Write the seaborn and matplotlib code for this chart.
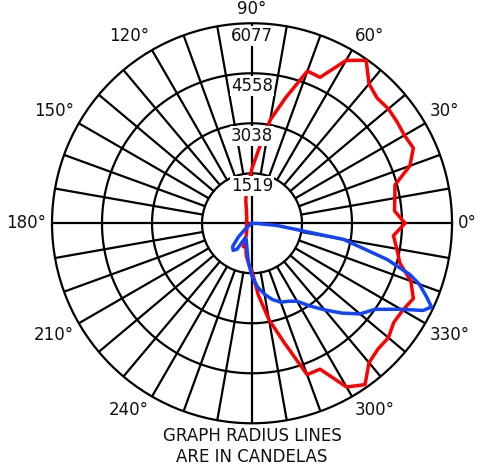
import numpy as np
import matplotlib.pyplot as plt
import seaborn as sns

# rings of the polar grid (candela)
ring_values = [1519, 3038, 4558, 6077]
angle_labels = [0, 30, 60, 90, 120, 150, 180, 210, 240, 300, 330]

# red curve: angle (deg) and intensity (cd)
red_deg = [0, 5, 10, 15, 20, 25, 30, 35, 40, 45, 50, 55, 60, 65, 70, 75, 80, 85, 90, 95,
           100, 105, 110, 115, 120, 130, 140, 150, 160, 170, 180, 190, 200, 210, 220, 230, 240,
           245, 250, 255, 260, 265, 270, 275, 280, 285, 290, 295, 300, 305, 310, 315, 320,
           325, 330, 335, 340, 345, 350, 355, 360]
red_cd = [4649, 4345, 4406, 4497, 5105, 5409, 5348, 5378, 5409, 5378, 5530, 6047, 5712, 4892,
          4922, 3950, 3190, 2218, 1671, 1215, 972, 729, 517, 395, 334, 243, 213, 182, 182, 152,
          152, 152, 182, 182, 213, 243, 334, 425, 760, 729, 1003, 1215, 1458, 2188, 2978, 3737,
          4892, 4892, 5743, 5986, 5530, 5409, 5409, 5257, 5287, 5409, 5135, 4649, 4467, 4315, 4649]

# blue curve
blue_deg = [210, 215, 220, 225, 230, 235, 240, 245, 250, 255, 260, 265, 270, 275, 280, 285, 290,
            295, 300, 305, 310, 315, 320, 325, 330, 333, 335, 337, 340, 342, 345, 350, 355, 358, 360]
blue_cd = [0, 61, 243, 577, 912, 1003, 912, 486, 517, 638, 851, 1215, 1610, 1945, 2188, 2400,
           2552, 2613, 2735, 3069, 3434, 3859, 4284, 4558, 5226, 5834, 6016, 5773, 5409, 5044,
           4254, 2826, 760, 152, 0]

sns.set_style("white")
plt.rcParams['font.family'] = ['DejaVu Sans']
plt.rcParams['font.size'] = 12
plt.rcParams['text.color'] = '#111111'

fig = plt.figure(figsize=(4.82, 4.72), dpi=100)
ax = fig.add_axes([0.1079, 0.1032, 0.8299, 0.8475], projection='polar')
rmax = ring_values[-1]
ax.set_ylim(0, rmax)
ax.grid(False)
ax.set_xticks([])
ax.set_yticks([])
ax.spines['polar'].set_linewidth(1.6)
ax.spines['polar'].set_color('black')

# grid circles and spokes
t = np.linspace(0, 2 * np.pi, 721)
for v in ring_values[:-1]:
    ax.plot(t, np.full_like(t, v), color='black', lw=1.6, zorder=1)
for a in range(0, 360, 10):
    r0 = 0 if a % 90 == 0 else ring_values[0]
    ax.plot([np.deg2rad(a)] * 2, [r0, rmax], color='black', lw=1.6, zorder=1)

sns.lineplot(x=np.deg2rad(red_deg), y=red_cd, ax=ax, color='#ff0000', lw=2.5,
             sort=False, estimator=None, zorder=3)
sns.lineplot(x=np.deg2rad(blue_deg), y=blue_cd, ax=ax, color='#1144ff', lw=2.5,
             sort=False, estimator=None, zorder=4)
ax.set_xlabel('')
ax.set_ylabel('')

# radius labels on the 90 deg axis
for v in ring_values:
    ax.text(np.pi / 2, v - 395, str(v), ha='center', va='center', zorder=6,
            bbox=dict(fc='white', ec='none', pad=0.6))

# angle labels around the outside
for a in angle_labels:
    th = np.deg2rad(a)
    c, s = np.cos(th), np.sin(th)
    ha = 'left' if c > 0.1 else ('right' if c < -0.1 else 'center')
    va = 'bottom' if s > 0.1 else ('top' if s < -0.1 else 'center')
    ax.annotate(f"{a}\u00b0", xy=(th, rmax), xytext=(4 * c, 4 * s),
                textcoords='offset points', ha=ha, va=va, annotation_clip=False)

fig.text(0.523, 0.054, "GRAPH RADIUS LINES\nARE IN CANDELAS", ha='center', va='center',
         linespacing=1.15)

fig.savefig("out.png", dpi=100)
